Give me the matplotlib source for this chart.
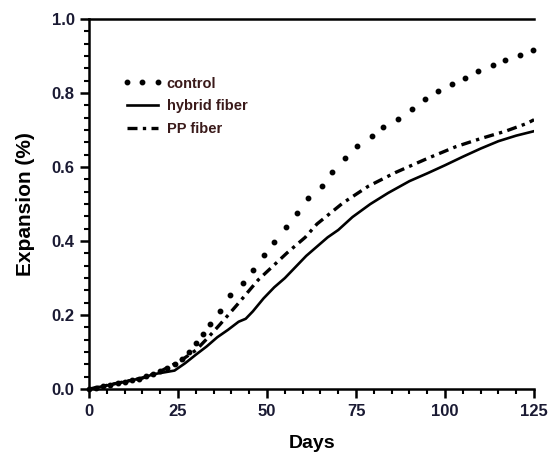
import matplotlib
matplotlib.use("Agg")
import matplotlib.pyplot as plt
from matplotlib.ticker import MultipleLocator, AutoMinorLocator, FormatStrFormatter

plt.rcParams['font.family'] = ['Liberation Sans', 'DejaVu Sans']

# control: measured points (drawn as dots)
days_control = [0, 2, 4, 6, 8, 10, 12, 14, 16, 18, 20, 22, 24, 26, 28, 30, 32,
                34, 36.8, 39.6, 43.3, 46.1, 49.2, 52, 55.3, 58.4, 61.5, 65.4, 68.3,
                71.9, 75.4, 79.5, 82.6, 86.8, 90.7, 94.4, 98, 102, 105.6, 109.3,
                113.5, 116.9, 121, 124.7]
control = [0.0, 0.004, 0.008, 0.012, 0.016, 0.02, 0.024, 0.028, 0.034, 0.042, 0.05,
           0.058, 0.068, 0.082, 0.1, 0.125, 0.15,
           0.177, 0.212, 0.253, 0.288, 0.323, 0.363, 0.398, 0.438, 0.477, 0.517,
           0.55, 0.586, 0.624, 0.656, 0.683, 0.707, 0.731, 0.758, 0.785, 0.806,
           0.825, 0.841, 0.86, 0.876, 0.89, 0.903, 0.917]

days_hybrid = [0, 3, 6, 9, 12, 15, 18, 21, 24, 27, 30, 33, 36, 39, 42, 44, 46, 49,
               52, 55, 58, 61, 64, 67, 70, 74, 79, 84, 90, 95, 100, 105, 110, 115,
               120, 125]
hybrid = [0.0, 0.006, 0.012, 0.018, 0.024, 0.03, 0.04, 0.045, 0.05, 0.07, 0.093,
          0.115, 0.14, 0.16, 0.182, 0.19, 0.21, 0.245, 0.275, 0.30, 0.33, 0.36,
          0.385, 0.41, 0.43, 0.465, 0.50, 0.53, 0.562, 0.583, 0.605, 0.628, 0.65,
          0.67, 0.685, 0.697]

days_pp = [0, 5, 10, 15, 20, 25.6, 30, 33.5, 36.8, 41.6, 47.5, 55.6, 60.7, 64, 71.3,
           78.4, 86, 95.2, 103, 110, 117, 123, 125]
pp = [0.0, 0.01, 0.02, 0.03, 0.048, 0.076, 0.105, 0.14, 0.175, 0.228, 0.295, 0.368,
      0.41, 0.446, 0.503, 0.548, 0.585, 0.624, 0.655, 0.677, 0.697, 0.718, 0.728]

fig = plt.figure(figsize=(5.5, 4.54), dpi=100)
ax = fig.add_axes([0.162, 0.143, 0.809, 0.815])

ax.plot(days_control, control, color='black', linestyle='none', marker='o',
        markersize=3.2, label='control', clip_on=False)
ax.plot(days_hybrid, hybrid, color='black', lw=1.9, linestyle='-', label='hybrid fiber')
ax.plot(days_pp, pp, color='black', lw=2.4, linestyle=(0, (3, 1.6, 1, 1.6)),
        label='PP fiber')

ax.set_xlim(0, 125)
ax.set_ylim(0, 1.0)
ax.xaxis.set_major_locator(MultipleLocator(25))
ax.xaxis.set_minor_locator(AutoMinorLocator(5))
ax.yaxis.set_major_locator(MultipleLocator(0.2))
ax.yaxis.set_minor_locator(AutoMinorLocator(6))
ax.yaxis.set_major_formatter(FormatStrFormatter('%.1f'))

for s in ['left', 'bottom', 'top']:
    ax.spines[s].set_linewidth(1.8)
ax.spines['right'].set_visible(False)
ax.tick_params(which='major', direction='out', length=6.5, width=1.8, labelsize=12,
               colors='black', pad=4)
ax.tick_params(which='minor', direction='out', length=3.5, width=1.5)
ax.tick_params(top=False, right=False)
for lab in ax.get_xticklabels() + ax.get_yticklabels():
    lab.set_fontweight('bold')
    lab.set_color('#1a1a33')

ax.set_xlabel('Days', fontsize=14, fontweight='bold', labelpad=12)
ax.set_ylabel('Expansion (%)', fontsize=15, fontweight='bold', labelpad=12)

leg = ax.legend(loc='upper left', bbox_to_anchor=(0.045, 0.88), frameon=False,
                handlelength=2.75, numpoints=3, handletextpad=0.3, labelspacing=0.6,
                prop={'weight': 'bold', 'size': 10.5})
for t in leg.get_texts():
    t.set_color('#3a1a1a')

fig.savefig('out.png', dpi=100)
